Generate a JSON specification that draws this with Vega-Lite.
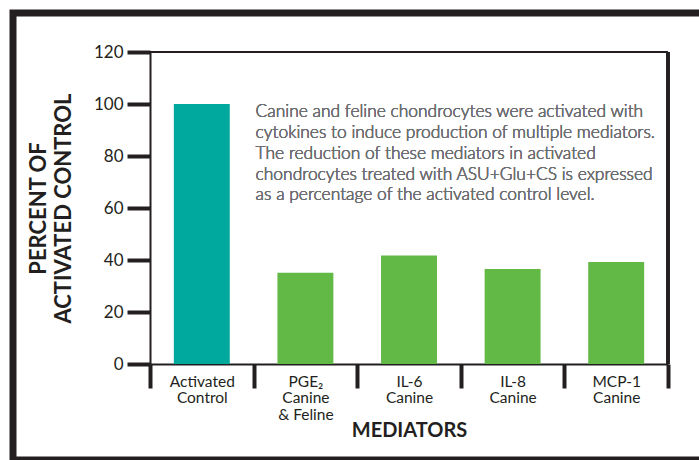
{
  "$schema": "https://vega.github.io/schema/vega-lite/v6.json",
  "width": 690,
  "height": 447,
  "autosize": "none",
  "padding": {"left": 13, "top": 13, "right": 0, "bottom": 0},
  "background": "white",
  "config": {"view": {"stroke": "#231F20", "strokeWidth": 7}, "font": "Lato"},
  "data": {"values": [
    {"mediator": "Activated|Control", "percent": 100, "group": "control"},
    {"mediator": "PGE₂|Canine|& Feline", "percent": 35.1, "group": "treated"},
    {"mediator": "IL-6|Canine", "percent": 41.7, "group": "treated"},
    {"mediator": "IL-8|Canine", "percent": 36.5, "group": "treated"},
    {"mediator": "MCP-1|Canine", "percent": 39.2, "group": "treated"}
  ]},
  "layer": [
    {
      "mark": {"type": "bar", "width": {"band": 0.54}},
      "encoding": {
        "x": {
          "field": "mediator", "type": "nominal", "sort": null,
          "scale": {"range": [137, 655], "paddingInner": 0, "paddingOuter": 0},
          "axis": {
            "title": "MEDIATORS", "offset": -96, "tickBand": "extent",
            "tickSize": 24, "tickWidth": 4, "tickColor": "#231F20",
            "domainColor": "#231F20", "domainWidth": 2,
            "labelExpr": "split(datum.label, '|')", "labelAngle": 0,
            "labelFontSize": 15.5, "labelLineHeight": 16.5, "labelColor": "#231F20",
            "labelPadding": -14, "labelBaseline": "top",
            "titleFontSize": 20, "titleFontWeight": "bold", "titleColor": "#231F20", "titlePadding": -2
          }
        },
        "y": {
          "field": "percent", "type": "quantitative",
          "scale": {"domain": [0, 120], "range": [351, 39], "nice": false},
          "axis": {
            "title": ["PERCENT OF", "ACTIVATED CONTROL"], "offset": -137,
            "values": [0, 20, 40, 60, 80, 100, 120],
            "tickSize": 23, "tickWidth": 4, "tickColor": "#231F20",
            "domainColor": "#231F20", "domainWidth": 2,
            "labelFontSize": 17, "labelColor": "#231F20", "labelPadding": 4,
            "titleFontSize": 22, "titleFontWeight": "bold", "titleColor": "#231F20",
            "titlePadding": 18, "titleLineHeight": 25, "grid": false
          }
        },
        "color": {
          "field": "group", "type": "nominal",
          "scale": {"domain": ["control", "treated"], "range": ["#00A99D", "#62B946"]},
          "legend": null
        }
      }
    },
    {
      "mark": {"type": "rule", "color": "#231F20", "strokeWidth": 3},
      "encoding": {
        "x": {"datum": "MCP-1|Canine", "bandPosition": 1},
        "y": {"datum": 0},
        "y2": {"datum": 120}
      }
    },
    {
      "mark": {"type": "rule", "color": "#231F20", "strokeWidth": 2},
      "encoding": {
        "x": {"datum": "Activated|Control", "bandPosition": 0},
        "x2": {"datum": "MCP-1|Canine", "bandPosition": 1},
        "y": {"datum": 120}
      }
    },
    {
      "mark": {"type": "text", "align": "left", "baseline": "top", "fontSize": 17.4, "fontWeight": 300, "lineHeight": 20.75, "color": "#6D6E71", "dx": 2},
      "encoding": {
        "x": {"datum": "PGE₂|Canine|& Feline", "bandPosition": 0},
        "y": {"datum": 100.2},
        "text": {"value": [
          "Canine and feline chondrocytes were activated with",
          "cytokines to induce production of multiple mediators.",
          "The reduction of these mediators in activated",
          "chondrocytes treated with ASU+Glu+CS is expressed",
          "as a percentage of the activated control level."
        ]}
      }
    }
  ]
}
